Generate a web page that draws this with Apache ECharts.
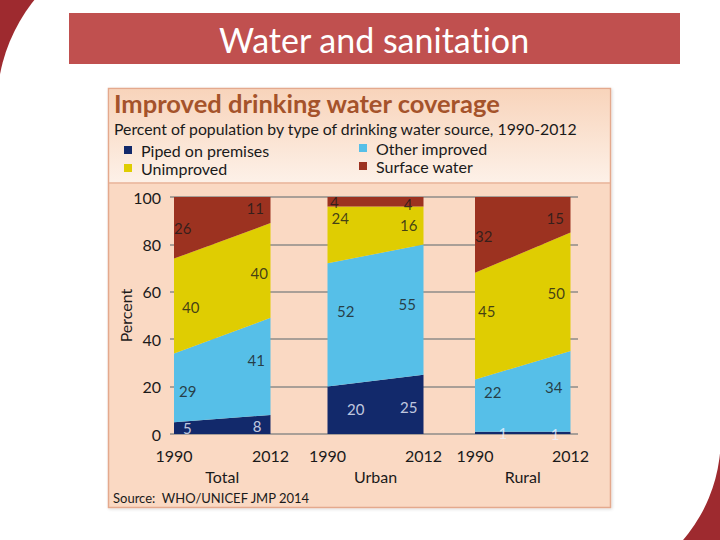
<!DOCTYPE html>
<html><head><meta charset="utf-8">
<script src="https://cdn.jsdelivr.net/npm/echarts@6/dist/echarts.min.js"></script>
<style>html,body{margin:0;padding:0;background:#fff}#c{width:720px;height:540px}
#c, #c svg, #c text{font-variant-ligatures:none;font-feature-settings:"liga" 0,"clig" 0}</style>
</head><body><div id="c"></div>
<script>
// ---- data ----
const years = ['1990', '2012'];
const panels = ['Total', 'Urban', 'Rural'];
const seriesNames = ['Piped on premises', 'Other improved', 'Unimproved', 'Surface water'];
const piped = [[5, 8], [20, 25], [1, 1]];
const otherImproved = [[29, 41], [52, 55], [22, 34]];
const unimproved = [[40, 40], [24, 16], [45, 50]];
const surface = [[26, 11], [4, 4], [32, 15]];
const yMin = 0, yMax = 100, yStep = 20;

// ---- styling ----
const FONT = 'Lato, "Open Sans", sans-serif';
const TXT = '#1a1a1a';
const colors = ['#12296b', '#56bfe8', '#dfcd02', '#9c3220'];
const labelColors = ['#eef3ff', TXT, TXT, TXT];
const panelLeft = [174, 327.5, 475], panelWidth = [96.5, 96, 95.5];
const plotTop = 197, plotHeight = 237;
const gridColor = '#8e8b88';
// label pixel nudges [panel][series][year] -> [dx, dy]
const nudge = [
  [[[5, 0], [-5, 1.5]], [[1, 3], [-1.5, -6.5]], [[4, 1], [1.5, 2.5]], [[-4, 0], [-2.5, -2]]],
  [[[15.5, -1], [-2, 2.5]], [[5.5, -14], [-3.5, -5.5]], [[0, -17], [-2, 0]], [[-1.5, 0], [-7, 2]]],
  [[[19.5, 0], [-7, 1]], [[5, -13.5], [-4, -4]], [[-1, -15], [-1.5, 1]], [[-4, 1], [-2.5, 3]]]
];

const values = [piped, otherImproved, unimproved, surface];

const grids = [{ left: 174, top: plotTop, width: 404, height: plotHeight, outerBoundsMode: 'none' }];
const xAxes = [{ type: 'value', gridIndex: 0, show: false, min: 0, max: 1 }];
const yAxes = [{
  type: 'value', gridIndex: 0, min: yMin, max: yMax, interval: yStep,
  axisLine: { show: false },
  axisTick: { show: true, length: 4, lineStyle: { color: gridColor, width: 1.5 } },
  splitLine: { lineStyle: { color: gridColor, width: 1.5 } },
  axisLabel: { fontSize: 16, color: TXT, fontFamily: FONT, margin: 13 },
  name: 'Percent', nameLocation: 'middle', nameGap: 41, nameMoveOverlap: false,
  nameTextStyle: { fontSize: 16, color: TXT, fontFamily: FONT }
}];
const series = [];

panels.forEach((p, i) => {
  grids.push({ left: panelLeft[i], top: plotTop, width: panelWidth[i], height: plotHeight, outerBoundsMode: 'none' });
  xAxes.push({
    type: 'category', gridIndex: i + 1, data: years, boundaryGap: false,
    axisLine: { show: false }, axisTick: { show: false }, splitLine: { show: false },
    axisLabel: { interval: 0, fontSize: 16, color: TXT, fontFamily: FONT, margin: 13 },
    name: p, nameLocation: 'middle', nameGap: 34,
    nameTextStyle: { fontSize: 16, color: TXT, fontFamily: FONT }
  });
  yAxes.push({ type: 'value', gridIndex: i + 1, min: yMin, max: yMax, show: false, splitLine: { show: false } });

  values.forEach((arr, s) => {
    series.push({
      type: 'line', name: seriesNames[s], xAxisIndex: i + 1, yAxisIndex: i + 1,
      stack: 'panel' + i, data: arr[i], symbol: 'none', silent: true,
      lineStyle: { width: 0 }, itemStyle: { color: colors[s] },
      areaStyle: { color: colors[s], opacity: 1 }, z: 2
    });
  });

  const labelData = [];
  years.forEach((y, yi) => {
    let cum = 0;
    values.forEach((arr, s) => {
      const v = arr[i][yi];
      labelData.push({
        value: [yi, cum + v / 2], txt: String(v),
        label: { position: yi === 0 ? 'right' : 'left', offset: nudge[i][s][yi], color: labelColors[s] }
      });
      cum += v;
    });
  });
  series.push({
    type: 'scatter', name: 'labels' + i, xAxisIndex: i + 1, yAxisIndex: i + 1,
    symbolSize: 0, silent: true, z: 5, data: labelData,
    itemStyle: { color: 'transparent' },
    label: { show: true, distance: 4, fontSize: 15, fontFamily: FONT, formatter: prm => prm.data.txt }
  });
});

const legendBase = {
  orient: 'vertical', icon: 'rect', itemWidth: 8, itemHeight: 8, itemGap: 2,
  selectedMode: false, padding: 0,
  textStyle: { fontSize: 16, lineHeight: 16, color: TXT, fontFamily: FONT, padding: [0, 0, 0, 4] }
};

const option = {
  backgroundColor: '#ffffff',
  animation: false,
  title: [
    { text: 'Improved drinking water coverage', left: 114, top: 90, padding: 0,
      textStyle: { fontFamily: FONT, fontSize: 25.5, fontWeight: 'bold', color: '#a5532b' } },
    { text: 'Percent of population by type of drinking water source, 1990-2012', left: 114, top: 120, padding: 0,
      textStyle: { fontFamily: FONT, fontSize: 15.8, fontWeight: 'normal', color: TXT } },
    { text: 'Source:  WHO/UNICEF JMP 2014', left: 113, top: 491, padding: 0,
      textStyle: { fontFamily: FONT, fontSize: 13, fontWeight: 'normal', color: TXT } }
  ],
  legend: [
    Object.assign({}, legendBase, { left: 124, top: 142, data: ['Piped on premises', 'Unimproved'] }),
    Object.assign({}, legendBase, { left: 359, top: 140, data: ['Other improved', 'Surface water'] })
  ],
  grid: grids, xAxis: xAxes, yAxis: yAxes, series: series,
  graphic: [
    { type: 'rect', z: -30, shape: { x: 0, y: 0, width: 45, height: 80 }, style: { fill: '#9e2a2f' } },
    { type: 'circle', z: -29, shape: { cx: 166, cy: 106, r: 169 }, style: { fill: '#ffffff' } },
    { type: 'rect', z: -30, shape: { x: 675, y: 445, width: 45, height: 95 }, style: { fill: '#9e2a2f' } },
    { type: 'circle', z: -29, shape: { cx: 565, cy: 438.5, r: 155.7 }, style: { fill: '#ffffff' } },
    { type: 'rect', z: -20, shape: { x: 69, y: 13, width: 611, height: 51 }, style: { fill: '#c0504f' } },
    { type: 'text', z: 10, style: { text: 'Water and sanitation', x: 374, y: 39, align: 'center', verticalAlign: 'middle',
      fontSize: 34, fontFamily: FONT, fill: '#ffffff' } },
    { type: 'rect', z: -20, shape: { x: 108.5, y: 88.5, width: 502, height: 419 },
      style: { fill: '#fad9c3', stroke: '#e4a98d', lineWidth: 1.5, shadowBlur: 3, shadowColor: 'rgba(0,0,0,0.15)', shadowOffsetX: 1, shadowOffsetY: 1 } },
    { type: 'rect', z: -19, shape: { x: 109.5, y: 89.5, width: 500, height: 93 },
      style: { fill: { type: 'linear', x: 0, y: 0, x2: 0, y2: 1, colorStops: [{ offset: 0, color: '#f8d4bb' }, { offset: 1, color: '#fdf1e8' }] } } },
    { type: 'line', z: -18, shape: { x1: 109, y1: 183, x2: 610, y2: 183 }, style: { stroke: '#e8b59b', lineWidth: 1.5 } }
  ]
};

const chart = echarts.init(document.getElementById('c'), null, { renderer: 'svg' });
chart.setOption(option);
</script>
</body></html>
